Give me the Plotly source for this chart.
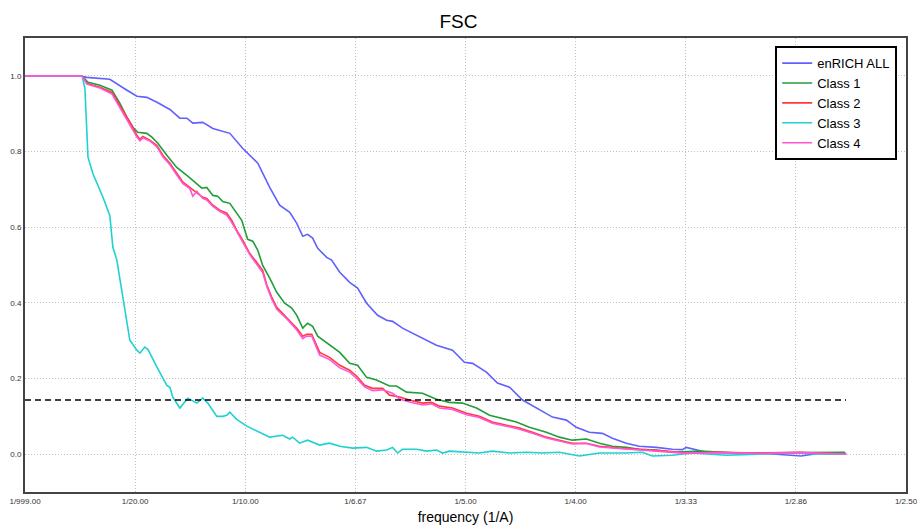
import plotly.graph_objects as go

# ---- data (frequency in 1/A, FSC) ----
enrich_x = [0, 0.0249, 0.0281, 0.0385, 0.0463, 0.0508, 0.0553, 0.0599, 0.0658, 0.0703, 0.0735, 0.0762,
            0.0807, 0.0853, 0.0930, 0.0989, 0.1057, 0.1111, 0.1156, 0.1202, 0.1234, 0.1261, 0.1283, 0.1306,
            0.1329, 0.1370, 0.1392, 0.1429, 0.1474, 0.1510, 0.1551, 0.1601, 0.1642, 0.1669, 0.1714, 0.1760,
            0.1805, 0.1868, 0.1941, 0.1995, 0.2032, 0.2095, 0.2145, 0.2200, 0.2259, 0.2322, 0.2395, 0.2458,
            0.2503, 0.2562, 0.2621, 0.2667, 0.2730, 0.2789, 0.2866, 0.2939, 0.2985, 0.3002, 0.3093, 0.3243,
            0.3379, 0.3524, 0.3600, 0.3728]
enrich_y = [1.0, 1.0, 0.996, 0.991, 0.962, 0.946, 0.943, 0.930, 0.911, 0.888, 0.888, 0.875,
            0.877, 0.861, 0.848, 0.808, 0.769, 0.705, 0.658, 0.639, 0.610, 0.576, 0.581, 0.571,
            0.544, 0.520, 0.513, 0.481, 0.454, 0.439, 0.399, 0.367, 0.354, 0.351, 0.333, 0.320,
            0.306, 0.288, 0.275, 0.243, 0.240, 0.217, 0.188, 0.177, 0.143, 0.122, 0.098, 0.090,
            0.071, 0.058, 0.055, 0.042, 0.029, 0.021, 0.018, 0.013, 0.012, 0.018, 0.005, 0.003,
            0.001, -0.005, 0.002, 0.0]

class1_x = [0, 0.0259, 0.0286, 0.0340, 0.0395, 0.0431, 0.0463, 0.0490, 0.0512, 0.0553, 0.0576, 0.0603,
            0.0644, 0.0689, 0.0735, 0.0780, 0.0803, 0.0825, 0.0853, 0.0875, 0.0898, 0.0930, 0.0952, 0.0984,
            0.1011, 0.1034, 0.1057, 0.1079, 0.1111, 0.1143, 0.1179, 0.1211, 0.1234, 0.1261, 0.1283, 0.1306,
            0.1329, 0.1383, 0.1429, 0.1474, 0.1510, 0.1551, 0.1596, 0.1655, 0.1687, 0.1732, 0.1805, 0.1868,
            0.1927, 0.1986, 0.2050, 0.2109, 0.2168, 0.2231, 0.2290, 0.2367, 0.2426, 0.2485, 0.2549, 0.2608,
            0.2667, 0.2730, 0.2789, 0.2866, 0.2939, 0.3061, 0.3243, 0.3515, 0.3719, 0.3728]
class1_y = [1.0, 1.0, 0.983, 0.975, 0.962, 0.927, 0.890, 0.864, 0.851, 0.848, 0.838, 0.822,
            0.790, 0.758, 0.737, 0.713, 0.703, 0.705, 0.684, 0.682, 0.668, 0.663, 0.645, 0.618,
            0.568, 0.563, 0.539, 0.499, 0.465, 0.428, 0.399, 0.386, 0.367, 0.333, 0.346, 0.338,
            0.312, 0.288, 0.269, 0.240, 0.235, 0.203, 0.196, 0.180, 0.180, 0.164, 0.161, 0.145,
            0.137, 0.135, 0.122, 0.103, 0.095, 0.085, 0.071, 0.058, 0.045, 0.037, 0.040, 0.029,
            0.021, 0.018, 0.013, 0.011, 0.005, 0.008, 0.003, 0.003, 0.005, 0.0]

class2_x = [0, 0.0259, 0.0281, 0.0340, 0.0395, 0.0422, 0.0454, 0.0485, 0.0508, 0.0522, 0.0535, 0.0567,
            0.0599, 0.0626, 0.0658, 0.0689, 0.0717, 0.0748, 0.0780, 0.0807, 0.0825, 0.0853, 0.0884, 0.0916,
            0.0939, 0.0961, 0.0989, 0.1020, 0.1052, 0.1079, 0.1098, 0.1120, 0.1143, 0.1188, 0.1234, 0.1261,
            0.1279, 0.1302, 0.1338, 0.1383, 0.1429, 0.1474, 0.1506, 0.1542, 0.1578, 0.1624, 0.1655, 0.1701,
            0.1746, 0.1805, 0.1846, 0.1882, 0.1941, 0.2005, 0.2063, 0.2122, 0.2186, 0.2245, 0.2304, 0.2367,
            0.2426, 0.2485, 0.2549, 0.2608, 0.2698, 0.2789, 0.2912, 0.3002, 0.3152, 0.3333, 0.3515, 0.3728]
class2_y = [1.0, 1.0, 0.980, 0.970, 0.956, 0.930, 0.896, 0.869, 0.843, 0.832, 0.840, 0.830,
            0.816, 0.790, 0.769, 0.742, 0.719, 0.705, 0.690, 0.679, 0.676, 0.658, 0.645, 0.637,
            0.618, 0.592, 0.565, 0.531, 0.507, 0.486, 0.447, 0.415, 0.388, 0.362, 0.333, 0.312,
            0.317, 0.317, 0.269, 0.256, 0.235, 0.222, 0.206, 0.182, 0.174, 0.174, 0.156, 0.151,
            0.143, 0.135, 0.137, 0.127, 0.122, 0.108, 0.100, 0.085, 0.077, 0.069, 0.058, 0.045,
            0.037, 0.029, 0.029, 0.021, 0.016, 0.013, 0.008, 0.003, 0.005, 0.003, 0.005, 0.0]

class3_x = [0, 0.0259, 0.0272, 0.0286, 0.0308, 0.0354, 0.0385, 0.0399, 0.0417, 0.0440, 0.0476, 0.0508,
            0.0522, 0.0544, 0.0558, 0.0599, 0.0644, 0.0658, 0.0671, 0.0703, 0.0739, 0.0780, 0.0807, 0.0830,
            0.0871, 0.0898, 0.0916, 0.0930, 0.0961, 0.1007, 0.1066, 0.1111, 0.1170, 0.1202, 0.1215, 0.1247,
            0.1283, 0.1338, 0.1383, 0.1429, 0.1488, 0.1551, 0.1596, 0.1642, 0.1669, 0.1692, 0.1714, 0.1778,
            0.1823, 0.1868, 0.1896, 0.1927, 0.2063, 0.2122, 0.2200, 0.2277, 0.2349, 0.2426, 0.2517, 0.2608,
            0.2730, 0.2803, 0.2848, 0.2939, 0.3029, 0.3184, 0.3333, 0.3483, 0.3637, 0.3728]
class3_y = [1.0, 1.0, 0.967, 0.785, 0.742, 0.679, 0.631, 0.547, 0.513, 0.433, 0.301, 0.275,
            0.267, 0.283, 0.277, 0.230, 0.182, 0.177, 0.151, 0.122, 0.148, 0.135, 0.148, 0.135,
            0.100, 0.100, 0.103, 0.111, 0.092, 0.074, 0.058, 0.045, 0.050, 0.040, 0.045, 0.029,
            0.037, 0.024, 0.029, 0.021, 0.016, 0.018, 0.008, 0.011, 0.018, 0.003, 0.013, 0.013,
            0.008, 0.011, 0.003, 0.008, 0.003, 0.008, 0.003, 0.005, 0.003, 0.005, -0.005, 0.003,
            0.003, 0.005, -0.005, -0.003, 0.003, -0.003, 0.0, 0.003, 0.0, 0.0]

class4_x = [0, 0.0259, 0.0281, 0.0340, 0.0395, 0.0422, 0.0454, 0.0485, 0.0508, 0.0522, 0.0535, 0.0567,
            0.0599, 0.0626, 0.0658, 0.0689, 0.0717, 0.0748, 0.0762, 0.0780, 0.0807, 0.0825, 0.0853, 0.0884,
            0.0916, 0.0939, 0.0961, 0.0989, 0.1020, 0.1052, 0.1079, 0.1098, 0.1120, 0.1143, 0.1188, 0.1234,
            0.1261, 0.1279, 0.1302, 0.1338, 0.1383, 0.1429, 0.1474, 0.1506, 0.1542, 0.1578, 0.1624, 0.1669,
            0.1701, 0.1746, 0.1805, 0.1846, 0.1882, 0.1941, 0.2005, 0.2063, 0.2122, 0.2186, 0.2245, 0.2304,
            0.2367, 0.2426, 0.2485, 0.2549, 0.2608, 0.2698, 0.2789, 0.2912, 0.3002, 0.3152, 0.3333, 0.3515, 0.3728]
class4_y = [1.0, 1.0, 0.978, 0.968, 0.952, 0.925, 0.890, 0.862, 0.838, 0.828, 0.836, 0.828,
            0.812, 0.786, 0.765, 0.738, 0.715, 0.702, 0.682, 0.695, 0.676, 0.672, 0.655, 0.642,
            0.632, 0.612, 0.588, 0.560, 0.528, 0.502, 0.480, 0.443, 0.410, 0.383, 0.358, 0.328,
            0.305, 0.312, 0.312, 0.262, 0.250, 0.228, 0.217, 0.200, 0.178, 0.168, 0.170, 0.161,
            0.146, 0.138, 0.130, 0.133, 0.122, 0.118, 0.104, 0.097, 0.082, 0.074, 0.066, 0.055,
            0.043, 0.035, 0.027, 0.028, 0.019, 0.015, 0.012, 0.006, 0.002, 0.004, 0.002, 0.004, 0.0]

threshold_x = [0, 0.3728]
threshold_y = [0.143, 0.143]

series_names = ["enRICH ALL", "Class 1", "Class 2", "Class 3", "Class 4"]
series_colors = ["#6060ff", "#1f9e3a", "#ff3b3b", "#1fd1d1", "#ff55d8"]

x_tickvals = [0.0, 0.05, 0.1, 0.15, 0.2, 0.25, 0.3, 0.35, 0.4]
x_ticktext = ["1/999.00", "1/20.00", "1/10.00", "1/6.67", "1/5.00", "1/4.00", "1/3.33", "1/2.86", "1/2.50"]
y_tickvals = [0.0, 0.2, 0.4, 0.6, 0.8, 1.0]
y_ticktext = ["0.0", "0.2", "0.4", "0.6", "0.8", "1.0"]

fig = go.Figure()
all_x = [enrich_x, class1_x, class2_x, class3_x, class4_x]
all_y = [enrich_y, class1_y, class2_y, class3_y, class4_y]
for name, col, xs, ys in zip(series_names, series_colors, all_x, all_y):
    fig.add_trace(go.Scatter(x=xs, y=ys, mode="lines", name=name,
                             line=dict(color=col, width=1.6)))

fig.add_trace(go.Scatter(x=threshold_x, y=threshold_y, mode="lines", showlegend=False,
                         line=dict(color="black", width=1.6, dash="6px,4px")))

fig.update_layout(
    width=917, height=527,
    margin=dict(l=25, r=11, t=38, b=35, autoexpand=False),
    paper_bgcolor="white", plot_bgcolor="white",
    font=dict(family="Liberation Sans, Arial, sans-serif", color="black"),
    title=dict(text="FSC", x=0.5, xanchor="center", y=1 - 21 / 527, yanchor="middle",
               font=dict(size=19, color="black")),
    legend=dict(x=0.99, y=0.982, xanchor="right", yanchor="top",
                bgcolor="white", bordercolor="black", borderwidth=2,
                font=dict(size=13, color="black"), tracegroupgap=0,
                itemwidth=30),
    showlegend=True,
)
fig.update_xaxes(range=[0, 0.4], tickvals=x_tickvals, ticktext=x_ticktext,
                 showgrid=True, gridcolor="#c0c0c0", griddash="1px,2px", gridwidth=1,
                 showline=True, linecolor="#444444", linewidth=2, mirror=True,
                 ticks="", zeroline=False, automargin=False, ticklabeloverflow="allow",
                 tickfont=dict(size=8, color="#333333"),
                 title=dict(text="frequency (1/A)", font=dict(size=14, color="black"), standoff=8))
fig.update_yaxes(range=[-0.1, 1.1], tickvals=y_tickvals, ticktext=y_ticktext,
                 showgrid=True, gridcolor="#c0c0c0", griddash="1px,2px", gridwidth=1,
                 showline=True, linecolor="#444444", linewidth=2, mirror=True,
                 ticks="", zeroline=False, automargin=False, ticklabeloverflow="allow",
                 tickfont=dict(size=8, color="#333333"))

fig.write_html("out.html")
